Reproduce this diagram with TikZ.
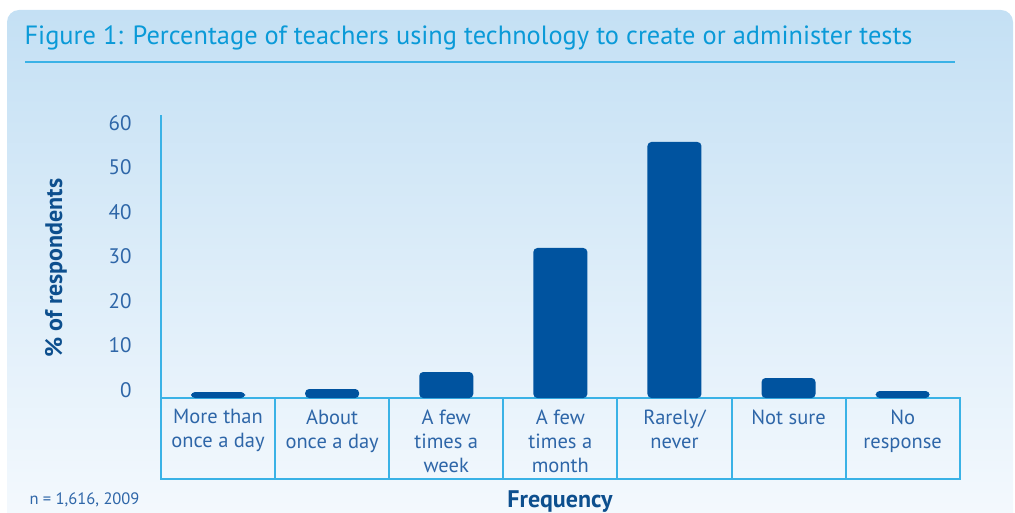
\documentclass[tikz,border=0pt]{standalone}
\usepackage{fontspec}
\setmainfont{PT Sans}
\usepackage{tikz}
\usetikzlibrary{positioning}

\definecolor{titleblue}{HTML}{0A9AD8}
\definecolor{linecyan}{HTML}{3AB2E6}
\definecolor{barblue}{HTML}{00539F}
\definecolor{textblue}{HTML}{2E66A8}
\definecolor{darkblue}{HTML}{0D4F8E}
\definecolor{bgtop}{HTML}{C4E0F4}
\definecolor{bgbottom}{HTML}{F6FAFE}

\begin{document}
\begin{tikzpicture}[%
  x=1pt,
  y=-1pt,
  node distance=0pt,
  cell/.style={
    draw=linecyan,
    line width=2pt,
    minimum width=114.1pt,
    minimum height=81pt,
    inner sep=0pt,
    outer sep=0pt,},
  cat/.style={
    text=textblue,
    align=center,
    font=\fontsize{20.5}{24}\selectfont,},
  bar/.style={
    fill=barblue,
    rounded corners=4pt,
    minimum width=54pt,
    inner sep=0pt,
    outer sep=0pt,},
  tick/.style={
    text=textblue,
    anchor=east,
    font=\fontsize{21}{24}\selectfont,}
  ]
  \useasboundingbox (0,0) rectangle (1015,513);
  %% Background
  \shade[top color=bgtop, bottom color=bgbottom, rounded corners=12pt]
    (7,10) rectangle (1013,540);
  %% Title
  \node[anchor=west, text=titleblue, font=\fontsize{26.4}{28}\selectfont]
    (title) at (21,38) {Figure 1: Percentage of teachers using technology to create or administer tests};
  \coordinate (ulA) at (25,62);
  \coordinate (ulB) at (955,62);
  \draw[linecyan, line width=1.5pt] (ulA) -- (ulB);
  %% Table cells
  \node[cell, anchor=north west] (c1) at (161,398) {};
  \node[cell, right = of c1] (c2) {};
  \node[cell, right = of c2] (c3) {};
  \node[cell, right = of c3] (c4) {};
  \node[cell, right = of c4] (c5) {};
  \node[cell, right = of c5] (c6) {};
  \node[cell, right = of c6] (c7) {};
  %% Category labels
  \node[cat, below = 8pt of c1.north] (l1) {More than\\once a day};
  \node[cat, below = 8pt of c2.north] (l2) {About\\once a day};
  \node[cat, below = 8pt of c3.north] (l3) {A few\\times a\\week};
  \node[cat, below = 8pt of c4.north] (l4) {A few\\times a\\month};
  \node[cat, below = 8pt of c5.north] (l5) {Rarely/\\never};
  \node[cat, below = 8pt of c6.north] (l6) {Not sure};
  \node[cat, below = 8pt of c7.north] (l7) {No\\response};
  %% Bars
  \node[bar, minimum height=6pt, above = of c1.north] (b1) {};
  \node[bar, minimum height=9pt, above = of c2.north] (b2) {};
  \node[bar, minimum height=26pt, above = of c3.north] (b3) {};
  \node[bar, minimum height=150pt, above = of c4.north] (b4) {};
  \node[bar, minimum height=256pt, above = of c5.north] (b5) {};
  \node[bar, minimum height=20pt, above = of c6.north] (b6) {};
  \node[bar, minimum height=7pt, above = of c7.north] (b7) {};
  %% Axis
  \coordinate (ytop) at (161,115);
  \draw[linecyan, line width=2pt] (c1.north west) -- (ytop);
  \node[tick] (t60) at (135,123) {60};
  \node[tick] (t50) at (135,167.5) {50};
  \node[tick] (t40) at (135,212) {40};
  \node[tick] (t30) at (135,256.5) {30};
  \node[tick] (t20) at (135,301) {20};
  \node[tick] (t10) at (135,345.5) {10};
  \node[tick] (t0) at (135,390) {0};
  \node[rotate=90, text=darkblue, font=\fontsize{24}{26}\selectfont\bfseries]
    (ylab) at (56,268) {\% of respondents};
  \node[text=darkblue, font=\fontsize{24}{26}\selectfont\bfseries]
    (xlab) at (560,502) {Frequency};
  \node[anchor=west, text=textblue, font=\fontsize{16.5}{18}\selectfont]
    (note) at (26,500) {n = 1,616, 2009};
\end{tikzpicture}
\end{document}
